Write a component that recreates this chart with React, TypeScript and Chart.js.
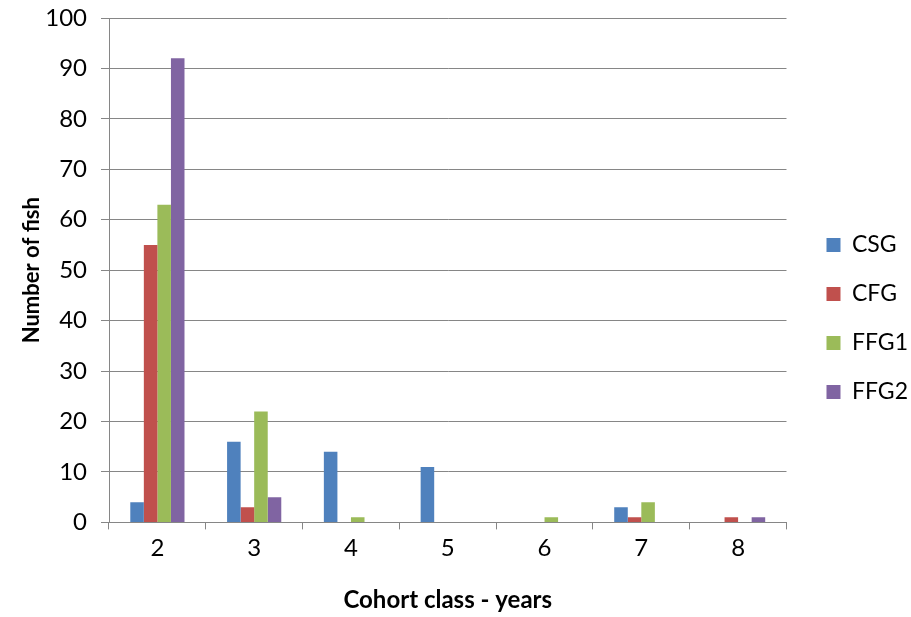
import React, { useEffect, useRef } from "react";
import { Chart, registerables } from "chart.js";

Chart.register(...registerables);

const categories = ["2", "3", "4", "5", "6", "7", "8"];
const csg = [4, 16, 14, 11, 0, 3, 0];
const cfg = [55, 3, 0, 0, 0, 1, 1];
const ffg1 = [63, 22, 1, 0, 1, 4, 0];
const ffg2 = [92, 5, 0, 0, 0, 0, 1];
const seriesNames = ["CSG", "CFG", "FFG1", "FFG2"];
const colors = ["#4F81BD", "#C0504D", "#9BBB59", "#8064A2"];

const FONT = "Lato, 'Liberation Sans', sans-serif";

const legendShift = {
  id: "legendShift",
  afterLayout(chart: any) {
    const lg = chart.legend;
    if (!lg) return;
    lg.left += 14;
    lg.right += 14;
    lg.top += 1;
    lg.bottom += 1;
  },
};

export default function App() {
  const ref = useRef<HTMLCanvasElement | null>(null);
  useEffect(() => {
    document.body.style.margin = "0";
    const ctx = ref.current!;
    const values = [csg, cfg, ffg1, ffg2];
    const chart = new Chart(ctx, {
      type: "bar",
      data: {
        labels: categories,
        datasets: seriesNames.map((n, i) => ({
          label: n,
          data: values[i],
          backgroundColor: colors[i],
          borderWidth: 0,
          barPercentage: 1,
          categoryPercentage: 0.56,
        })),
      },
      plugins: [legendShift],
      options: {
        responsive: false,
        animation: false,
        maintainAspectRatio: false,
        layout: { padding: { top: 18, right: 7, left: 8, bottom: 0 } },
        plugins: {
          tooltip: { enabled: false },
          legend: {
            position: "right",
            labels: {
              boxWidth: 14,
              boxHeight: 14,
              padding: 26,
              color: "#000",
              font: { family: FONT, size: 23 },
            },
          },
        },
        scales: {
          x: {
            grid: {
              drawOnChartArea: false,
              drawTicks: true,
              tickLength: 7,
              color: "#868686",
            },
            border: { color: "#868686", width: 1 },
            ticks: { color: "#000", font: { family: FONT, size: 24 }, padding: 4 },
            title: {
              display: true,
              text: "Cohort class - years",
              color: "#000",
              font: { family: FONT, size: 24, weight: "bold" },
              padding: { top: 20, bottom: 2 },
            },
          },
          y: {
            min: 0,
            max: 100,
            afterFit(scale: any) {
              scale.width = 101;
              scale.paddingTop = 0;
              scale.paddingBottom = 0;
            },
            ticks: {
              stepSize: 10,
              color: "#000",
              font: { family: FONT, size: 24 },
              padding: 14,
            },
            grid: { color: "#868686", tickLength: 8 },
            border: { color: "#868686", width: 1 },
            title: {
              display: true,
              text: "Number of fish",
              color: "#000",
              font: { family: FONT, size: 22, weight: "bold" },
              padding: { top: 11, bottom: 0 },
            },
          },
        },
      },
    });
    return () => chart.destroy();
  }, []);
  return (
    <div style={{ width: 911, height: 617, background: "#fff" }}>
      <canvas ref={ref} width={911} height={617} />
    </div>
  );
}
